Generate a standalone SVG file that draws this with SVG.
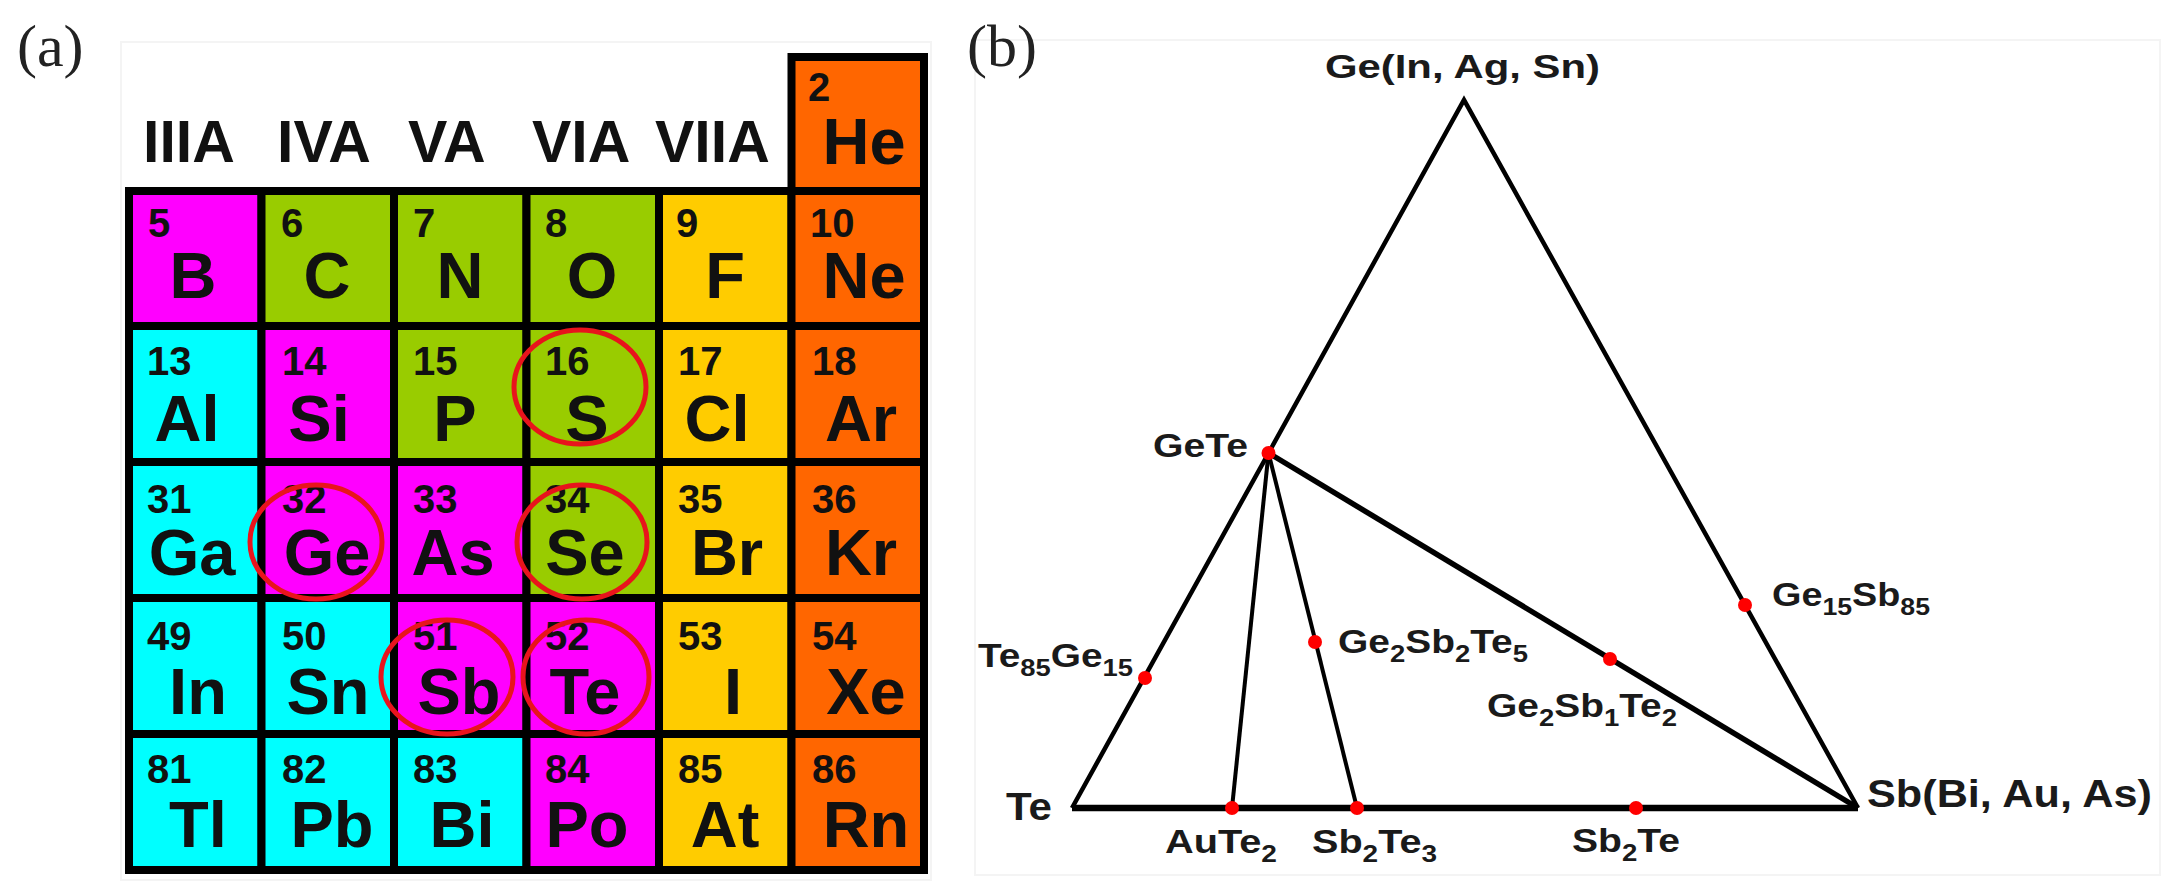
<svg xmlns="http://www.w3.org/2000/svg" width="2167" height="884" viewBox="0 0 2167 884">
<style>
.cell{stroke:#000;stroke-width:8}
.mg{fill:#FF00FF}.gr{fill:#99CC00}.ye{fill:#FFCC00}.or{fill:#FF6600}.cy{fill:#00FFFF}
.num{font-family:"Liberation Sans",Arial,sans-serif;font-weight:bold;font-size:40px;fill:#111}
.sym{font-family:"Liberation Sans",Arial,sans-serif;font-weight:bold;font-size:65px;fill:#111;text-anchor:middle}
.grp{font-family:"Liberation Sans",Arial,sans-serif;font-weight:bold;font-size:59px;fill:#111}
.ring{fill:none;stroke:#E8141C;stroke-width:5}
.pl{font-family:"Liberation Serif","Times New Roman",serif;font-size:60px;fill:#222}
.lb{font-family:"Liberation Sans",Arial,sans-serif;font-weight:bold;font-size:34px;fill:#1a1a1a}
.lb2{font-family:"Liberation Sans",Arial,sans-serif;font-weight:bold;font-size:38px;fill:#1a1a1a}
.sub{font-size:24px}
.dot{fill:#FF0000}
.edge{stroke:#000;fill:none;stroke-linejoin:miter}
.frame{fill:none;stroke:#f4f4f4;stroke-width:2}
</style>
<rect width="2167" height="884" fill="#fff"/>
<rect class="frame" x="121" y="42" width="810" height="838"/>
<rect class="frame" x="975" y="40" width="1185" height="835"/>
<text class="pl" x="17" y="66">(a)</text>
<text class="pl" x="967" y="66">(b)</text>
<g id="group-labels">
<text class="grp" x="143" y="162">IIIA</text>
<text class="grp" x="277" y="162">IVA</text>
<text class="grp" x="408" y="162">VA</text>
<text class="grp" x="532" y="162">VIA</text>
<text class="grp" x="655" y="162">VIIA</text>
</g>
<g id="He"><rect class="cell or" x="791.5" y="57" width="132.5" height="134"/><text class="num" x="808" y="101">2</text><text class="sym" x="864" y="164">He</text></g>
<g id="B"><rect class="cell mg" x="129" y="191" width="132.5" height="135"/><text class="num" x="148" y="237">5</text><text class="sym" x="193" y="298">B</text></g>
<g id="C"><rect class="cell gr" x="261.5" y="191" width="132.5" height="135"/><text class="num" x="281" y="237">6</text><text class="sym" x="327" y="298">C</text></g>
<g id="N"><rect class="cell gr" x="394" y="191" width="132.5" height="135"/><text class="num" x="413" y="237">7</text><text class="sym" x="460" y="298">N</text></g>
<g id="O"><rect class="cell gr" x="526.5" y="191" width="132.5" height="135"/><text class="num" x="545" y="237">8</text><text class="sym" x="592" y="298">O</text></g>
<g id="F"><rect class="cell ye" x="659" y="191" width="132.5" height="135"/><text class="num" x="676" y="237">9</text><text class="sym" x="725" y="298">F</text></g>
<g id="Ne"><rect class="cell or" x="791.5" y="191" width="132.5" height="135"/><text class="num" x="810" y="237">10</text><text class="sym" x="864" y="298">Ne</text></g>
<g id="Al"><rect class="cell cy" x="129" y="326" width="132.5" height="136"/><text class="num" x="147" y="375">13</text><text class="sym" x="187" y="441">Al</text></g>
<g id="Si"><rect class="cell mg" x="261.5" y="326" width="132.5" height="136"/><text class="num" x="282" y="375">14</text><text class="sym" x="319" y="441">Si</text></g>
<g id="P"><rect class="cell gr" x="394" y="326" width="132.5" height="136"/><text class="num" x="413" y="375">15</text><text class="sym" x="455" y="441">P</text></g>
<g id="S"><rect class="cell gr" x="526.5" y="326" width="132.5" height="136"/><text class="num" x="545" y="375">16</text><text class="sym" x="587" y="441">S</text></g>
<g id="Cl"><rect class="cell ye" x="659" y="326" width="132.5" height="136"/><text class="num" x="678" y="375">17</text><text class="sym" x="717" y="441">Cl</text></g>
<g id="Ar"><rect class="cell or" x="791.5" y="326" width="132.5" height="136"/><text class="num" x="812" y="375">18</text><text class="sym" x="861" y="441">Ar</text></g>
<g id="Ga"><rect class="cell cy" x="129" y="462" width="132.5" height="136"/><text class="num" x="147" y="513">31</text><text class="sym" x="192" y="575">Ga</text></g>
<g id="Ge"><rect class="cell mg" x="261.5" y="462" width="132.5" height="136"/><text class="num" x="282" y="513">32</text><text class="sym" x="327" y="575">Ge</text></g>
<g id="As"><rect class="cell mg" x="394" y="462" width="132.5" height="136"/><text class="num" x="413" y="513">33</text><text class="sym" x="453" y="575">As</text></g>
<g id="Se"><rect class="cell gr" x="526.5" y="462" width="132.5" height="136"/><text class="num" x="545" y="513">34</text><text class="sym" x="585" y="575">Se</text></g>
<g id="Br"><rect class="cell ye" x="659" y="462" width="132.5" height="136"/><text class="num" x="678" y="513">35</text><text class="sym" x="727" y="575">Br</text></g>
<g id="Kr"><rect class="cell or" x="791.5" y="462" width="132.5" height="136"/><text class="num" x="812" y="513">36</text><text class="sym" x="861" y="575">Kr</text></g>
<g id="In"><rect class="cell cy" x="129" y="598" width="132.5" height="136"/><text class="num" x="147" y="650">49</text><text class="sym" x="198" y="714">In</text></g>
<g id="Sn"><rect class="cell cy" x="261.5" y="598" width="132.5" height="136"/><text class="num" x="282" y="650">50</text><text class="sym" x="328" y="714">Sn</text></g>
<g id="Sb"><rect class="cell mg" x="394" y="598" width="132.5" height="136"/><text class="num" x="413" y="650">51</text><text class="sym" x="459" y="714">Sb</text></g>
<g id="Te"><rect class="cell mg" x="526.5" y="598" width="132.5" height="136"/><text class="num" x="545" y="650">52</text><text class="sym" x="585" y="714">Te</text></g>
<g id="I"><rect class="cell ye" x="659" y="598" width="132.5" height="136"/><text class="num" x="678" y="650">53</text><text class="sym" x="733" y="714">I</text></g>
<g id="Xe"><rect class="cell or" x="791.5" y="598" width="132.5" height="136"/><text class="num" x="812" y="650">54</text><text class="sym" x="866" y="714">Xe</text></g>
<g id="Tl"><rect class="cell cy" x="129" y="734" width="132.5" height="136"/><text class="num" x="147" y="783">81</text><text class="sym" x="198" y="847">Tl</text></g>
<g id="Pb"><rect class="cell cy" x="261.5" y="734" width="132.5" height="136"/><text class="num" x="282" y="783">82</text><text class="sym" x="332" y="847">Pb</text></g>
<g id="Bi"><rect class="cell cy" x="394" y="734" width="132.5" height="136"/><text class="num" x="413" y="783">83</text><text class="sym" x="462" y="847">Bi</text></g>
<g id="Po"><rect class="cell mg" x="526.5" y="734" width="132.5" height="136"/><text class="num" x="545" y="783">84</text><text class="sym" x="587" y="847">Po</text></g>
<g id="At"><rect class="cell ye" x="659" y="734" width="132.5" height="136"/><text class="num" x="678" y="783">85</text><text class="sym" x="725" y="847">At</text></g>
<g id="Rn"><rect class="cell or" x="791.5" y="734" width="132.5" height="136"/><text class="num" x="812" y="783">86</text><text class="sym" x="866" y="847">Rn</text></g>
<g id="rings">
<ellipse class="ring" cx="580" cy="387" rx="66" ry="57"/>
<ellipse class="ring" cx="316" cy="542" rx="66" ry="57"/>
<ellipse class="ring" cx="582" cy="542" rx="65" ry="57"/>
<ellipse class="ring" cx="447" cy="677" rx="66" ry="57"/>
<ellipse class="ring" cx="586" cy="677" rx="63" ry="57"/>
</g>
<g id="connectors">
<polyline class="edge" stroke-width="4.5" points="1072,808 1464,100 1858,808"/>
<line class="edge" stroke-width="6.5" x1="1072" y1="808" x2="1858" y2="808"/>
<line class="edge" stroke-width="4" x1="1268.5" y1="453" x2="1232" y2="808"/>
<line class="edge" stroke-width="4" x1="1268.5" y1="453" x2="1357" y2="808"/>
<line class="edge" stroke-width="5.5" x1="1268.5" y1="453" x2="1858" y2="808"/>
</g>
<g id="vertex-Ge"><text class="lb" x="1325" y="78" textLength="275" lengthAdjust="spacingAndGlyphs">Ge(In, Ag, Sn)</text></g>
<g id="vertex-Te"><text class="lb2" x="1006" y="820" textLength="46" lengthAdjust="spacingAndGlyphs">Te</text></g>
<g id="vertex-Sb"><text class="lb2" x="1867" y="807" textLength="285" lengthAdjust="spacingAndGlyphs">Sb(Bi, Au, As)</text></g>
<g id="GeTe"><circle class="dot" cx="1268.5" cy="453" r="7"/><text class="lb" x="1153" y="457" textLength="95" lengthAdjust="spacingAndGlyphs">GeTe</text></g>
<g id="Te85Ge15"><circle class="dot" cx="1145" cy="678" r="7"/><text class="lb" x="978" y="667" textLength="155" lengthAdjust="spacingAndGlyphs">Te<tspan class="sub" dy="9">85</tspan><tspan dy="-9">Ge</tspan><tspan class="sub" dy="9">15</tspan></text></g>
<g id="Ge2Sb2Te5"><circle class="dot" cx="1315" cy="642" r="7"/><text class="lb" x="1338" y="653" textLength="190" lengthAdjust="spacingAndGlyphs">Ge<tspan class="sub" dy="9">2</tspan><tspan dy="-9">Sb</tspan><tspan class="sub" dy="9">2</tspan><tspan dy="-9">Te</tspan><tspan class="sub" dy="9">5</tspan></text></g>
<g id="Ge2Sb1Te2"><circle class="dot" cx="1610" cy="659" r="7"/><text class="lb" x="1487" y="717" textLength="190" lengthAdjust="spacingAndGlyphs">Ge<tspan class="sub" dy="9">2</tspan><tspan dy="-9">Sb</tspan><tspan class="sub" dy="9">1</tspan><tspan dy="-9">Te</tspan><tspan class="sub" dy="9">2</tspan></text></g>
<g id="Ge15Sb85"><circle class="dot" cx="1745" cy="605" r="7"/><text class="lb" x="1772" y="606" textLength="158" lengthAdjust="spacingAndGlyphs">Ge<tspan class="sub" dy="9">15</tspan><tspan dy="-9">Sb</tspan><tspan class="sub" dy="9">85</tspan></text></g>
<g id="AuTe2"><circle class="dot" cx="1232" cy="808" r="7"/><text class="lb" x="1165" y="853" textLength="112" lengthAdjust="spacingAndGlyphs">AuTe<tspan class="sub" dy="9">2</tspan></text></g>
<g id="Sb2Te3"><circle class="dot" cx="1357" cy="808" r="7"/><text class="lb" x="1312" y="853" textLength="125" lengthAdjust="spacingAndGlyphs">Sb<tspan class="sub" dy="9">2</tspan><tspan dy="-9">Te</tspan><tspan class="sub" dy="9">3</tspan></text></g>
<g id="Sb2Te"><circle class="dot" cx="1636" cy="808" r="7"/><text class="lb" x="1572" y="852" textLength="108" lengthAdjust="spacingAndGlyphs">Sb<tspan class="sub" dy="9">2</tspan><tspan dy="-9">Te</tspan></text></g>
</svg>
